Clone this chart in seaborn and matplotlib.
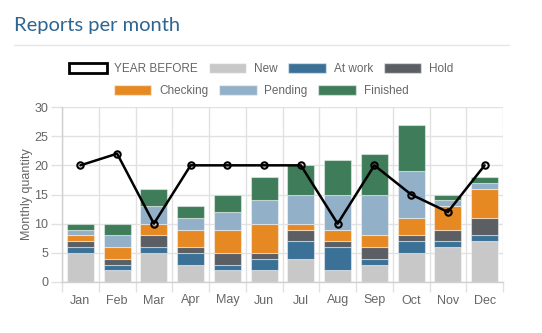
import matplotlib
matplotlib.use("Agg")
import matplotlib.pyplot as plt
from matplotlib.patches import Patch
import numpy as np
import pandas as pd
import seaborn as sns

months = ["Jan", "Feb", "Mar", "Apr", "May", "Jun", "Jul", "Aug", "Sep", "Oct", "Nov", "Dec"]
new = [5, 2, 5, 3, 2, 2, 4, 2, 3, 5, 6, 7]
at_work = [1, 1, 1, 2, 1, 2, 3, 4, 1, 2, 1, 1]
hold = [1, 1, 2, 1, 2, 1, 2, 1, 2, 1, 2, 3]
checking = [1, 2, 2, 3, 4, 5, 1, 2, 2, 3, 4, 5]
pending = [1, 2, 3, 2, 3, 4, 5, 6, 7, 8, 1, 1]
finished = [1, 2, 3, 2, 3, 4, 5, 6, 7, 8, 1, 1]
year_before = [20, 22, 10, 20, 20, 20, 20, 10, 20, 15, 12, 20]

series_names = ["New", "At work", "Hold", "Checking", "Pending", "Finished"]
series_vals = [new, at_work, hold, checking, pending, finished]
colors = ["#c8c8c8", "#3b7196", "#5b5f63", "#e68923", "#93b0c9", "#3f7d5a"]

sns.set_theme(style="white")
plt.rcParams["font.family"] = ["Liberation Sans", "DejaVu Sans"]

fig = plt.figure(figsize=(5.42, 3.33), dpi=100)
ax = fig.add_axes([62 / 542, 1 - 282 / 333, 441 / 542, 175 / 333])

bottom = np.zeros(len(months))
for name, vals, col in zip(series_names, series_vals, colors):
    df = pd.DataFrame({"month": months, "value": vals})
    sns.barplot(data=df, x="month", y="value", color=col, width=0.74,
                bottom=bottom, ax=ax, linewidth=0.8,
                edgecolor=(1, 1, 1, 0.45), saturation=1, zorder=2)
    bottom = bottom + np.array(vals)

dfl = pd.DataFrame({"month": months, "yb": year_before})
sns.pointplot(data=dfl, x="month", y="yb", color="black", markers="o",
              errorbar=None, ax=ax, linewidth=1.8, markersize=4.6,
              markerfacecolor="none", markeredgewidth=1.5, zorder=5)

ax.set_ylim(0, 30)
ax.set_xlim(-0.5, 11.5)
ax.set_yticks([0, 5, 10, 15, 20, 25, 30])
ax.set_xticks(range(12))
ax.set_xticklabels(months)
ax.set_xticks(np.arange(-0.5, 12, 1), minor=True)
ax.grid(True, axis="y", color="#e1e1e1", lw=1, zorder=0)
ax.grid(True, axis="x", which="minor", color="#e1e1e1", lw=1, zorder=0)
ax.grid(False, axis="x", which="major")
ax.set_axisbelow(True)
ax.tick_params(axis="x", which="major", length=0, pad=9, labelsize=9, labelcolor="#666666")
ax.tick_params(axis="x", which="minor", length=7, width=1, color="#e1e1e1", bottom=True)
ax.tick_params(axis="y", length=8, width=1, color="#e1e1e1", left=True, labelsize=9,
               labelcolor="#666666", pad=2)
for s in ["left", "bottom"]:
    ax.spines[s].set_color("#d0d0d0")
    ax.spines[s].set_linewidth(1)
for s in ["top", "right"]:
    ax.spines[s].set_visible(False)
ax.set_xlabel("")
ax.set_ylabel("Monthly quantity", fontsize=9, color="#666666", labelpad=1)

fig.text(14 / 542, 1 - 26 / 333, "Reports per month", fontsize=14.5, color="#2e6591",
         family=["Lato", "DejaVu Sans"], va="center", ha="left")
fig.add_artist(plt.Line2D([14 / 542, 509 / 542], [1 - 45 / 333, 1 - 45 / 333],
                          color="#e5e5e5", lw=1))

h1 = [Patch(facecolor="white", edgecolor="black", lw=2, label="YEAR BEFORE")]
h1 += [Patch(facecolor=c, edgecolor=(1, 1, 1, 0.5), label=n) for n, c in zip(series_names[:3], colors[:3])]
h2 = [Patch(facecolor=c, edgecolor=(1, 1, 1, 0.5), label=n) for n, c in zip(series_names[3:], colors[3:])]
legkw = dict(frameon=False, fontsize=8.5, labelcolor="#666666", handlelength=3.2,
             handleheight=0.9, handletextpad=0.65, columnspacing=0.9, loc="center",
             borderpad=0)
fig.legend(handles=h1, ncol=4, bbox_to_anchor=(261 / 542, 1 - 69 / 333), **legkw)
fig.legend(handles=h2, ncol=3, bbox_to_anchor=(261 / 542, 1 - 91 / 333), **legkw)

fig.savefig("out.png", dpi=100)
